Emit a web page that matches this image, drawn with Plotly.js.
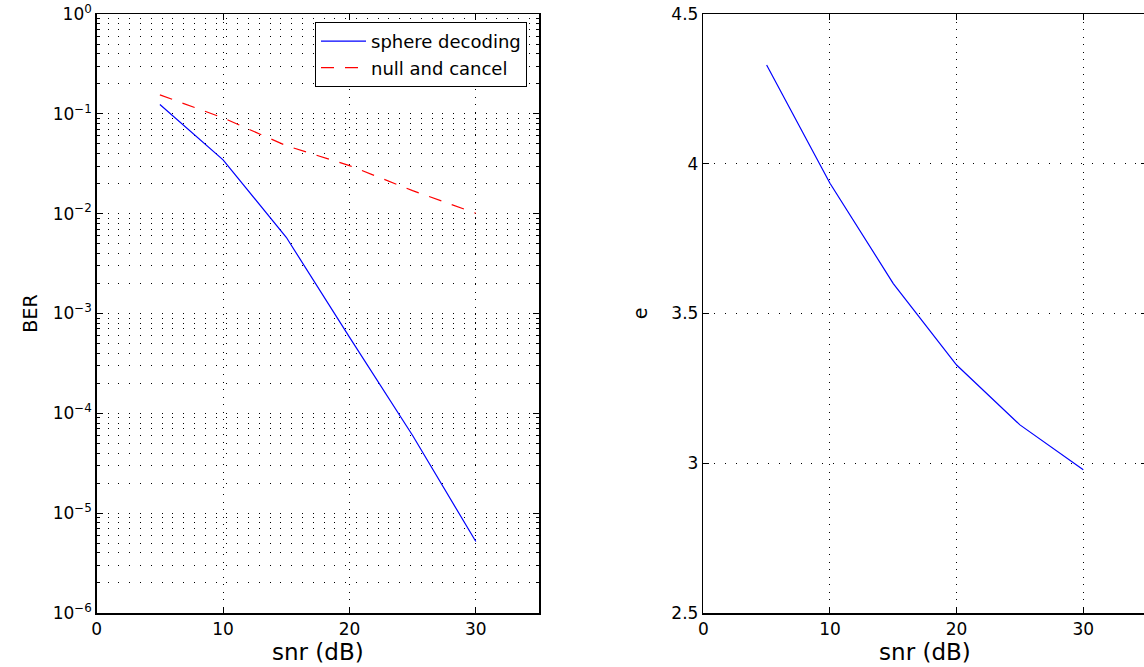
<!DOCTYPE html>
<html>
<head>
<meta charset="utf-8">
<script src="https://cdn.plot.ly/plotly-3.0.1.min.js"></script>
<style>html,body{margin:0;padding:0;overflow:hidden;background:#fff}</style>
</head>
<body>
<div id="chart"></div>
<script>
// ---- data ----
const snr = [5, 10, 15, 20, 25, 30];
const berSphere = [0.124, 0.0346, 0.0058, 5.8e-4, 6.0e-5, 5.2e-6];
const berNull = [0.155, 0.091, 0.048, 0.0303, 0.017, 0.0101];
const eSphere = [4.33, 3.935, 3.60, 3.328, 3.128, 2.978];

const berTickVals = [1e-6, 1e-5, 1e-4, 1e-3, 1e-2, 1e-1, 1];
const berTickText = ['10<sup>−6</sup>', '10<sup>−5</sup>', '10<sup>−4</sup>', '10<sup>−3</sup>',
                     '10<sup>−2</sup>', '10<sup>−1</sup>', '10<sup>0</sup>'];
const seriesNames = ['sphere decoding', 'null and cancel'];
const xTitle = 'snr (dB)';
const yTitleLeft = 'BER';
const yTitleRight = 'e';

// ---- layout ----
const W = 1148, H = 667;
const FONT = 'DejaVu Sans, Liberation Sans, Arial, sans-serif';
const px = v => v / W;
const py = v => 1 - v / H;

const traces = [
  {x: snr, y: berSphere, name: seriesNames[0], type: 'scatter', mode: 'lines',
   line: {color: '#0000ff', width: 1.2}, xaxis: 'x', yaxis: 'y'},
  {x: snr, y: berNull, name: seriesNames[1], type: 'scatter', mode: 'lines',
   line: {color: '#ff0000', width: 1.2, dash: '13px,11px'}, xaxis: 'x', yaxis: 'y'},
  {x: snr, y: eSphere, name: 'e', type: 'scatter', mode: 'lines', showlegend: false,
   line: {color: '#0000ff', width: 1.2}, xaxis: 'x2', yaxis: 'y2'}
];

const common = {
  showline: true, linecolor: '#000', linewidth: 1.5, mirror: 'ticks',
  ticks: 'inside', ticklen: 6, tickcolor: '#000', tickwidth: 1,
  zeroline: false, showgrid: true, gridcolor: '#000', gridwidth: 1,
  tickfont: {family: FONT, size: 17, color: '#000'}
};

const layout = {
  width: W, height: H,
  margin: {l: 0, r: 0, t: 0, b: 0},
  paper_bgcolor: '#fff', plot_bgcolor: '#fff',
  font: {family: FONT, color: '#000'},
  showlegend: true,
  legend: {
    x: px(527), y: py(22), xanchor: 'right', yanchor: 'top',
    bgcolor: '#fff', bordercolor: '#000', borderwidth: 1,
    font: {family: FONT, size: 18, color: '#000'},
    itemwidth: 45, tracegroupgap: 0
  },
  xaxis: Object.assign({}, common, {
    domain: [px(96.7), px(539)], range: [0, 35], dtick: 10, tick0: 0,
    griddash: '1px,6.5px', anchor: 'y',
    title: {text: xTitle, font: {family: FONT, size: 23, color: '#000'}, standoff: 5}
  }),
  yaxis: Object.assign({}, common, {
    domain: [py(613), py(14)], type: 'log', range: [-6, 0],
    tickmode: 'array', tickvals: berTickVals, ticktext: berTickText,
    griddash: '1px,9.8px', anchor: 'x',
    minor: {dtick: 'D1', showgrid: true, gridcolor: '#000', griddash: '1px,9.8px',
            ticks: 'inside', ticklen: 3, tickcolor: '#000'},
    title: {text: yTitleLeft, font: {family: FONT, size: 19, color: '#000'}, standoff: 10}
  }),
  xaxis2: Object.assign({}, common, {
    domain: [px(703.3), px(1146.6)], range: [0, 35], dtick: 10, tick0: 0,
    griddash: '1px,6.5px', anchor: 'y2',
    title: {text: xTitle, font: {family: FONT, size: 23, color: '#000'}, standoff: 5}
  }),
  yaxis2: Object.assign({}, common, {
    domain: [py(613), py(14)], range: [2.5, 4.5], dtick: 0.5, tick0: 2.5,
    griddash: '1px,9.8px', anchor: 'x2',
    title: {text: yTitleRight, font: {family: FONT, size: 19, color: '#000'}, standoff: 18}
  })
};

Plotly.newPlot('chart', traces, layout, {displayModeBar: false, staticPlot: true, responsive: false});
</script>
</body>
</html>
